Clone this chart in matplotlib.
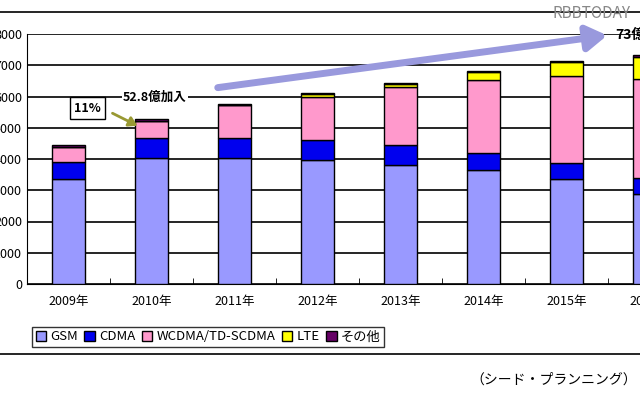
import matplotlib
matplotlib.use("Agg")
import matplotlib.pyplot as plt
from matplotlib.patches import Patch
import numpy as np

plt.rcParams["font.family"] = ["Noto Sans CJK JP", "DejaVu Sans"]

years = ["2009年", "2010年", "2011年", "2012年", "2013年", "2014年", "2015年", "2016年"]
gsm = [3350, 4030, 4030, 3960, 3800, 3640, 3350, 2880]
cdma = [550, 630, 630, 640, 640, 550, 520, 510]
wcdma = [500, 550, 1060, 1400, 1850, 2330, 2780, 3160]
lte = [0, 0, 0, 70, 100, 250, 440, 730]
other = [60, 60, 40, 40, 40, 40, 40, 40]
yticks = [0, 1000, 2000, 3000, 4000, 5000, 6000, 7000, 8000]

W, H = 640, 400
fig = plt.figure(figsize=(6.4, 4.0), dpi=100)

def fx(px): return px / W
def fy(py): return 1 - py / H

ax = fig.add_axes([fx(27), fy(284), fx(691) - fx(27), fy(34) - fy(284)])
x = np.arange(len(years))
series = [gsm, cdma, wcdma, lte, other]
colors = ["#9999ff", "#0000ee", "#ff99cc", "#ffff00", "#660066"]
names = ["GSM", "CDMA", "WCDMA/TD-SCDMA", "LTE", "その他"]
bottom = np.zeros(len(years))
for vals, c in zip(series, colors):
    ax.bar(x, vals, 0.39, bottom=bottom, color=c, edgecolor="black", linewidth=1.0, zorder=3)
    bottom += np.array(vals)
ax.set_xlim(-0.5, len(years) - 0.5)
ax.set_ylim(0, 8000)
ax.set_yticks(yticks)
ax.set_yticklabels([str(v) for v in yticks], fontsize=9)
ax.yaxis.grid(True, color="black", linewidth=1.2, zorder=0)
ax.set_xticks(x)
ax.set_xticklabels(years, fontsize=9)
ax.set_xticks(x[:-1] + 0.5, minor=True)
ax.tick_params(axis="x", which="major", length=0, pad=8)
ax.tick_params(axis="x", which="minor", length=4, direction="in")
ax.tick_params(axis="y", length=0)
for s in ["top", "right"]:
    ax.spines[s].set_visible(False)

fig.add_artist(plt.Line2D([0, 1], [fy(12), fy(12)], color="black", lw=1.2))
fig.add_artist(plt.Line2D([0, 1], [fy(354), fy(354)], color="black", lw=1.2))

fig.add_artist(matplotlib.patches.FancyArrowPatch((fx(215), fy(88)), (fx(610), fy(35)),
               transform=fig.transFigure, arrowstyle="-|>,head_length=8,head_width=5",
               color="#9999dd", lw=5, mutation_scale=1.5))
fig.text(fx(615), fy(35), "73億", fontsize=10, fontweight="bold", va="center")
fig.text(fx(123), fy(97), "52.8億加入", fontsize=9, fontweight="bold", va="center",
         bbox=dict(facecolor="white", edgecolor="none", pad=1))
fig.text(fx(87), fy(108), "11%", fontsize=9, fontweight="bold", va="center", ha="center",
         bbox=dict(facecolor="white", edgecolor="black", pad=3))
fig.add_artist(matplotlib.patches.FancyArrowPatch((fx(110), fy(112)), (fx(140), fy(127)),
               transform=fig.transFigure, arrowstyle="-|>,head_length=5,head_width=3",
               color="#999933", lw=2))
fig.text(fx(552), fy(14), "RBBTODAY", fontsize=11, color="#888888", va="center")

handles = [Patch(facecolor=c, edgecolor="black") for c in colors]
fig.legend(handles, names, loc="center left", bbox_to_anchor=(fx(25), fy(337)), ncol=5,
           fontsize=9.5, frameon=True, fancybox=False, edgecolor="black",
           handlelength=0.8, handleheight=0.8, handletextpad=0.3, columnspacing=0.5,
           borderpad=0.3)
fig.text(fx(470), fy(380), "（シード・プランニング）", fontsize=10, va="center")

fig.savefig("out.png", dpi=100)
